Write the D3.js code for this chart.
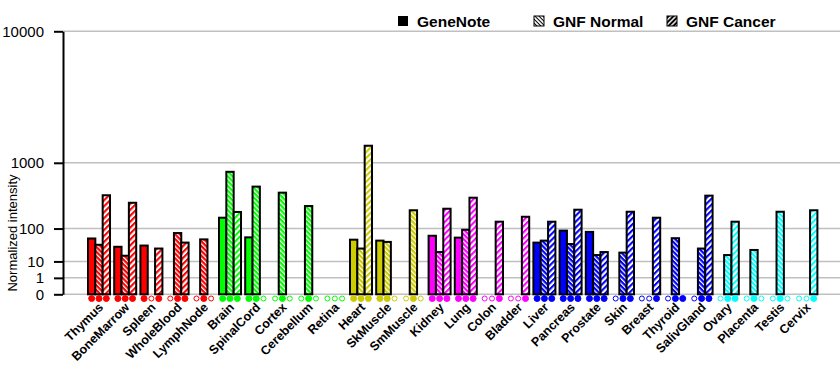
<!DOCTYPE html>
<html>
<head>
<meta charset="utf-8">
<script src="https://cdn.jsdelivr.net/npm/d3@7"></script>
<style>
  body { margin: 0; background: #fff; }
  text { font-family: "Liberation Sans", Arial, sans-serif; }
</style>
</head>
<body>
<div id="chart"></div>
<script>
var tissues = ["Thymus", "BoneMarrow", "Spleen", "WholeBlood", "LymphNode",
  "Brain", "SpinalCord", "Cortex", "Cerebellum", "Retina",
  "Heart", "SkMuscle", "SmMuscle",
  "Kidney", "Lung", "Colon", "Bladder",
  "Liver", "Pancreas", "Prostate", "Skin", "Breast", "Thyroid", "SalivGland",
  "Ovary", "Placenta", "Testis", "Cervix"];

var tissueColors = ["#ff0000", "#ff0000", "#ff0000", "#ff0000", "#ff0000",
  "#00ff00", "#00ff00", "#00ff00", "#00ff00", "#00ff00",
  "#cccc00", "#cccc00", "#cccc00",
  "#ff00ff", "#ff00ff", "#ff00ff", "#ff00ff",
  "#0000ff", "#0000ff", "#0000ff", "#0000ff", "#0000ff", "#0000ff", "#0000ff",
  "#00ffff", "#00ffff", "#00ffff", "#00ffff"];

var seriesNames = ["GeneNote", "GNF Normal", "GNF Cancer"];

var geneNote = [58, 34, 37, 0, 0, 166, 62, 0, 0, 0, 54, 51, 0, 68, 61, 0, 0,
  45, 90, 84, 0, 0, 0, 0, 0, 0, 0, 0];
var gnfNormal = [39, 17, 0, 79, 55, 790, 515, 425, 266, 0, 30, 47, 226, 23, 94, 0, 0,
  51, 41, 18, 22, 0, 59, 30, 18, 27, 213, 0];
var gnfCancer = [390, 300, 30, 45, 0, 211, 0, 0, 0, 0, 1500, 0, 0, 240, 359, 139, 173,
  139, 231, 23, 213, 166, 0, 385, 139, 0, 0, 226];

// 1 = present (filled dot), 0 = absent (open dot)
var calls = [
  [1,1,1], [1,1,1], [1,0,1], [0,1,1], [0,1,0],
  [1,1,1], [1,1,0], [0,1,0], [0,1,0], [0,0,0],
  [1,1,1], [1,1,0], [0,1,0],
  [1,1,1], [1,1,1], [0,0,1], [0,0,1],
  [1,1,1], [1,1,1], [1,1,1], [0,1,1], [0,0,1], [0,1,1], [0,1,1],
  [0,1,1], [0,1,0], [0,1,0], [0,0,1]];

var yTicks = [0, 1, 10, 100, 1000, 10000];

var width = 840, height = 385;

var svg = d3.select("#chart").append("svg")
    .attr("width", width)
    .attr("height", height);

var x = d3.scaleBand()
    .domain(tissues)
    .range([88, 817.4])
    .paddingInner(0.16)
    .paddingOuter(0);

var xs = d3.scaleBand()
    .domain([0, 1, 2])
    .range([0, x.bandwidth()]);

var y = d3.scalePow()
    .exponent(Math.log10(2))
    .domain([0, 10000])
    .range([294.3, 31.3]);

// patterns, one pair per colour
var defs = svg.append("defs");
var colorKeys = Array.from(new Set(tissueColors));
function patId(c, kind) { return kind + c.replace("#", ""); }
colorKeys.forEach(function(c) {
  var pn = defs.append("pattern")
      .attr("id", patId(c, "n"))
      .attr("patternUnits", "userSpaceOnUse")
      .attr("width", 3.4).attr("height", 3.4)
      .attr("patternTransform", "rotate(-45)");
  pn.append("rect").attr("width", 3.4).attr("height", 3.4).attr("fill", c);
  pn.append("rect").attr("width", 1.2).attr("height", 3.4).attr("fill", "#fff");

  var pc = defs.append("pattern")
      .attr("id", patId(c, "c"))
      .attr("patternUnits", "userSpaceOnUse")
      .attr("width", 4.2).attr("height", 4.2)
      .attr("patternTransform", "rotate(45)");
  pc.append("rect").attr("width", 4.2).attr("height", 4.2).attr("fill", "#fff");
  pc.append("rect").attr("width", 2.1).attr("height", 4.2).attr("fill", c);
});

// grid
svg.append("g").selectAll("line").data(yTicks).enter()
  .append("line")
    .attr("x1", 63).attr("x2", width)
    .attr("y1", function(d) { return y(d); })
    .attr("y2", function(d) { return y(d); })
    .attr("stroke", "#c0c0c0")
    .attr("stroke-width", 1.5);

// y axis
var yAxis = d3.axisLeft(y)
    .tickValues(yTicks)
    .tickSize(9)
    .tickSizeOuter(0)
    .tickFormat(d3.format("d"));
var ya = svg.append("g")
    .attr("transform", "translate(63,0)")
    .call(yAxis);
ya.select(".domain").attr("stroke", "#000").attr("stroke-width", 2);
ya.selectAll(".tick line").attr("stroke", "#000").attr("stroke-width", 2);
ya.selectAll(".tick text")
    .attr("x", -19)
    .attr("font-size", 15)
    .attr("font-family", "Liberation Sans, Arial, sans-serif")
    .attr("fill", "#000");

svg.append("text")
    .attr("transform", "translate(17,233) rotate(-90)")
    .attr("text-anchor", "middle")
    .attr("font-size", 13)
    .text("Normalized intensity");

// bars
var bars = [];
tissues.forEach(function(t, i) {
  [geneNote, gnfNormal, gnfCancer].forEach(function(s, j) {
    bars.push({ tissue: t, k: j, value: s[i], color: tissueColors[i], call: calls[i][j] });
  });
});

function barFill(d) {
  if (d.k === 0) { return d.color; }
  return "url(#" + patId(d.color, d.k === 1 ? "n" : "c") + ")";
}

svg.append("g").selectAll("rect").data(bars).enter()
  .append("rect")
    .attr("x", function(d) { return x(d.tissue) + xs(d.k); })
    .attr("y", function(d) { return y(d.value); })
    .attr("width", xs.bandwidth())
    .attr("height", function(d) { return y(0) - y(d.value); })
    .attr("fill", barFill)
    .attr("stroke", "#000")
    .attr("stroke-width", 2);

// presence dots
var dots = svg.append("g");
dots.selectAll("circle").data(bars).enter()
  .append("circle")
    .attr("cx", function(d) { return x(d.tissue) + xs(d.k) + xs.bandwidth() / 2; })
    .attr("cy", 298.5)
    .attr("r", function(d) { return d.call ? 3 : 2.5; })
    .attr("fill", function(d) { return d.call ? d.color : "#fff"; })
    .attr("stroke", function(d) { return d.color; })
    .attr("stroke-width", 1);

// x labels
svg.append("g").selectAll("text").data(tissues).enter()
  .append("text")
    .attr("transform", function(d) {
      return "translate(" + (x(d) + x.bandwidth() / 2 + 5) + ",308) rotate(-45)";
    })
    .attr("text-anchor", "end")
    .attr("font-size", 12.5)
    .attr("font-weight", "bold")
    .text(function(d) { return d; });

// legend
var legendX = [398, 534, 667];
var legendFill = ["#000", "url(#n000000)", "url(#c000000)"];
var lg = defs.append("pattern")
    .attr("id", "n000000")
    .attr("patternUnits", "userSpaceOnUse")
    .attr("width", 2.8).attr("height", 2.8)
    .attr("patternTransform", "rotate(-45)");
lg.append("rect").attr("width", 2.8).attr("height", 2.8).attr("fill", "#fff");
lg.append("rect").attr("width", 1).attr("height", 2.8).attr("fill", "#000");
var lc = defs.append("pattern")
    .attr("id", "c000000")
    .attr("patternUnits", "userSpaceOnUse")
    .attr("width", 3.4).attr("height", 3.4)
    .attr("patternTransform", "rotate(45)");
lc.append("rect").attr("width", 3.4).attr("height", 3.4).attr("fill", "#000");
lc.append("rect").attr("width", 1.4).attr("height", 3.4).attr("fill", "#fff");

var legend = svg.append("g").selectAll("g").data(seriesNames).enter()
  .append("g")
    .attr("transform", function(d, i) { return "translate(" + legendX[i] + ",0)"; });
legend.append("rect")
    .attr("x", 0).attr("y", 16)
    .attr("width", 10).attr("height", 10)
    .attr("fill", function(d, i) { return legendFill[i]; })
    .attr("stroke", function(d, i) { return i === 0 ? "none" : "#000"; })
    .attr("stroke-width", 1);
legend.append("text")
    .attr("x", 19).attr("y", 27)
    .attr("font-size", 15.5)
    .attr("font-weight", "bold")
    .text(function(d) { return d; });
</script>
</body>
</html>
